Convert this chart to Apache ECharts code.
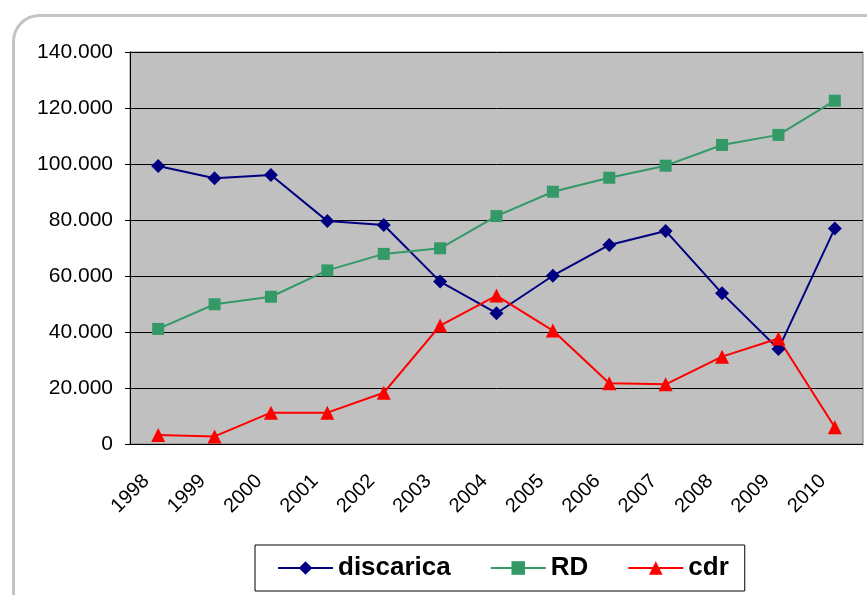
<!DOCTYPE html>
<html>
<head>
<meta charset="utf-8">
<script src="https://cdn.jsdelivr.net/npm/echarts@6/dist/echarts.min.js"></script>
<style>
html, body { margin: 0; padding: 0; background: #fff; }
#chart { width: 867px; height: 595px; }
</style>
</head>
<body>
<div id="chart"></div>
<script>
// anni
const years = ['1998', '1999', '2000', '2001', '2002', '2003', '2004', '2005', '2006', '2007', '2008', '2009', '2010']

// valori
const discarica = [99300, 94900, 96100, 79600, 78200, 58000, 46700, 60100, 71100, 76100, 53800, 33900, 77000]
const rd = [41100, 49900, 52600, 62000, 67900, 69900, 81400, 90100, 95100, 99400, 106800, 110400, 122600]
const cdr = [3200, 2700, 11200, 11200, 18300, 42300, 53000, 40500, 21700, 21300, 31200, 37700, 6000]

const font = 'Liberation Sans, Arial, sans-serif'

function fmt (v) {
  return String(v).replace(/\B(?=(\d{3})+(?!\d))/g, '.')
}

const myChart = echarts.init(document.getElementById('chart'))
myChart.setOption({
  animation: false,
  backgroundColor: '#fff',
  graphic: [
    {
      // cornice arrotondata
      type: 'rect',
      left: 11,
      top: 13,
      shape: { width: 900, height: 700, r: 26 },
      style: { fill: 'none', stroke: '#c4c4c4', lineWidth: 3 },
      z: -1
    }
  ],
  grid: {
    left: 130,
    right: 4,
    top: 52,
    bottom: 151,
    show: true,
    backgroundColor: '#c0c0c0',
    borderColor: '#808080',
    borderWidth: 1,
    outerBoundsMode: 'none'
  },
  legend: {
    left: 255,
    top: 545,
    itemWidth: 55,
    itemHeight: 17,
    itemGap: 39,
    padding: [9, 16, 9, 22],
    borderColor: '#000',
    borderWidth: 1,
    textStyle: {
      fontFamily: font,
      fontSize: 26,
      fontWeight: 'bold',
      color: '#000',
      lineHeight: 28
    },
    data: ['discarica', 'RD', 'cdr']
  },
  xAxis: {
    type: 'category',
    data: years,
    axisLine: { lineStyle: { color: '#000', width: 1 } },
    axisTick: { length: 6, lineStyle: { color: '#333' } },
    axisLabel: {
      rotate: 45,
      margin: 22,
      padding: [0, 17, 0, 0],
      fontFamily: font,
      fontSize: 20,
      color: '#000'
    }
  },
  yAxis: {
    type: 'value',
    min: 0,
    max: 140000,
    interval: 20000,
    axisLine: { show: true, lineStyle: { color: '#000', width: 1 } },
    axisTick: { show: true, length: 5, lineStyle: { color: '#000' } },
    splitLine: { lineStyle: { color: '#000', width: 1 } },
    axisLabel: {
      margin: 17,
      fontFamily: font,
      fontSize: 21,
      color: '#000',
      formatter: fmt
    }
  },
  series: [
    {
      name: 'discarica',
      type: 'line',
      data: discarica,
      symbol: 'diamond',
      symbolSize: 14,
      color: '#000080',
      lineStyle: { width: 2, color: '#000080' },
      itemStyle: { color: '#000080' }
    },
    {
      name: 'RD',
      type: 'line',
      data: rd,
      symbol: 'rect',
      symbolSize: 12,
      color: '#339966',
      lineStyle: { width: 2, color: '#339966' },
      itemStyle: { color: '#339966' }
    },
    {
      name: 'cdr',
      type: 'line',
      data: cdr,
      symbol: 'triangle',
      symbolSize: 14,
      color: '#ff0000',
      lineStyle: { width: 2, color: '#ff0000' },
      itemStyle: { color: '#ff0000' }
    }
  ]
})
window.addEventListener('resize', () => {
  myChart.resize()
})
</script>
</body>
</html>
